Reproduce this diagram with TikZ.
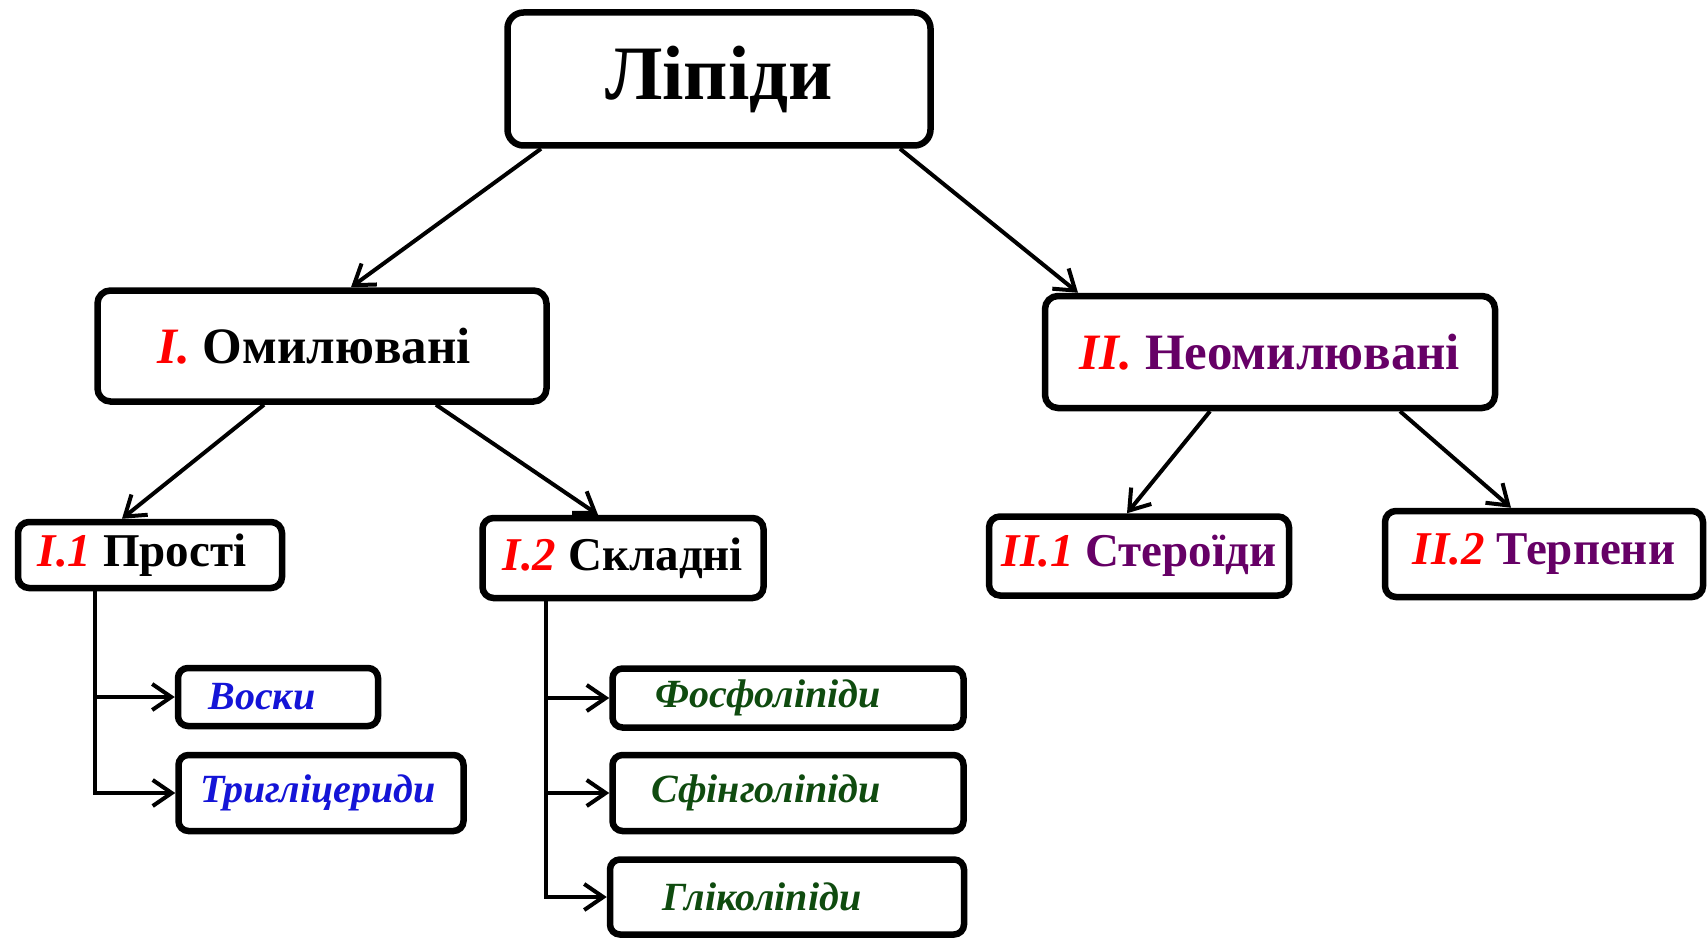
\documentclass[tikz,border=0pt]{standalone}
\usepackage{fontspec}
\setmainfont{Liberation Serif}
\usetikzlibrary{arrows.meta}
\definecolor{numred}{RGB}{255,0,0}
\definecolor{plum}{RGB}{102,0,102}
\definecolor{leafblue}{RGB}{20,20,215}
\definecolor{leafgreen}{RGB}{15,75,15}
\newcommand{\rnum}[1]{{\color{numred}\itshape #1}}
\tikzset{
  flowarrow/.style={-{Straight Barb[length=19pt,width=26pt]}, line width=4pt},
  rootbox/.style={draw, rounded corners=16pt, line width=6.5pt, inner sep=4pt, minimum width=423pt, minimum height=133pt, font=\fontsize{77}{80}\selectfont\bfseries},
  groupbox/.style={draw, rounded corners=13pt, line width=6.5pt, inner sep=4pt, minimum width=449pt, minimum height=111pt, font=\fontsize{51}{54}\selectfont\bfseries},
  classbox/.style={draw, rounded corners=11pt, line width=6.5pt, inner sep=4pt, font=\fontsize{47}{50}\selectfont\bfseries},
  leafbox/.style={draw, rounded corners=10pt, line width=6.5pt, inner sep=4pt, font=\fontsize{40}{43}\selectfont\bfseries\itshape}
}

\begin{document}
\begin{tikzpicture}[x=1pt, y=-1pt]
  \useasboundingbox (0,0) rectangle (1708,939);
  % top
  \node[rootbox] (lipidy) at (719,79) {Ліпіди};
  % two groups
  \node[groupbox] (omyl) at (322,346) {\hspace*{-16pt}\rnum{I.} Омилювані};
  \node[groupbox, minimum width=450pt, minimum height=112pt, text=plum] (neomyl) at (1270,352) {\rnum{II.} Неомилювані};
  % classes
  \node[classbox, minimum width=264pt, minimum height=66pt] (prosti) at (150,555) {\hspace*{-16pt}\rnum{I.1} Прості};
  \node[classbox, minimum width=281pt, minimum height=80pt] (skladni) at (623,558) {\rnum{I.2} Складні};
  \node[classbox, minimum width=300pt, minimum height=79pt, text=plum] (steroidy) at (1139,556) {\rnum{II.1} Стероїди};
  \node[classbox, minimum width=318pt, minimum height=86pt, text=plum] (terpeny) at (1544,554) {\rnum{II.2} Терпени};
  % leaves
  \node[leafbox, minimum width=200pt, minimum height=58pt, text=leafblue] (voski) at (278,697) {\hspace*{-32pt}Воски};
  \node[leafbox, minimum width=285pt, minimum height=76pt, text=leafblue] (tryglits) at (321,793) {\hspace*{-6pt}Тригліцериди};
  \node[leafbox, minimum width=351pt, minimum height=59pt, text=leafgreen] (fosfo) at (788,698) {\hspace*{-40pt}Фосфоліпіди};
  \node[leafbox, minimum width=351pt, minimum height=76pt, text=leafgreen] (sfingo) at (788,793) {\hspace*{-44pt}Сфінголіпіди};
  \node[leafbox, minimum width=354pt, minimum height=75pt, text=leafgreen] (gliko) at (787,897) {\hspace*{-50pt}Гліколіпіди};

  \draw[flowarrow] ([xshift=-178pt]lipidy.south) -- ([xshift=29pt]omyl.north);
  \draw[flowarrow] ([xshift=181pt]lipidy.south) -- ([xshift=-192pt]neomyl.north);
  \draw[flowarrow] ([xshift=-58pt]omyl.south) -- ([xshift=-28pt]prosti.north);
  \draw[flowarrow] ([xshift=114pt]omyl.south) -- ([xshift=-25pt]skladni.north);
  \draw[flowarrow] ([xshift=-60pt]neomyl.south) -- ([xshift=-12pt]steroidy.north);
  \draw[flowarrow] ([xshift=130pt]neomyl.south) -- ([xshift=-33pt]terpeny.north);

  \draw[flowarrow] ([xshift=-55pt]prosti.south) |- (voski.west);
  \draw[flowarrow] ([xshift=-55pt]prosti.south) |- (tryglits.west);
  \draw[flowarrow] ([xshift=-77pt]skladni.south) |- (fosfo.west);
  \draw[flowarrow] ([xshift=-77pt]skladni.south) |- (sfingo.west);
  \draw[flowarrow] ([xshift=-77pt]skladni.south) |- (gliko.west);
\end{tikzpicture}
\end{document}
